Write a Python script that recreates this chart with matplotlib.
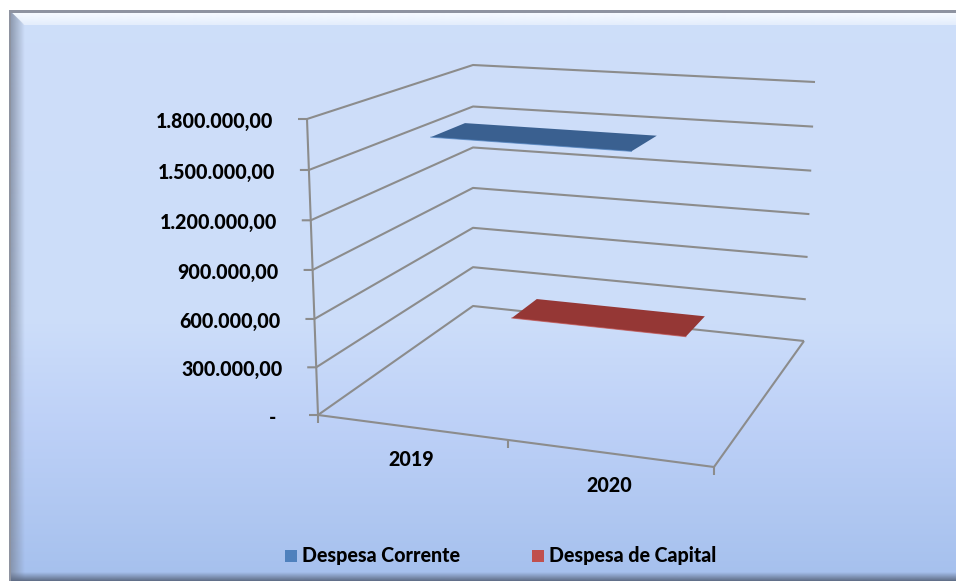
import numpy as np
import matplotlib
matplotlib.use("Agg")
import matplotlib.pyplot as plt
from matplotlib.patches import Polygon, Rectangle

years = ["2019", "2020"]
series = ["Despesa Corrente", "Despesa de Capital"]
values = [1540000, 405000]
ticks = [0, 300000, 600000, 900000, 1200000, 1500000, 1800000]
tick_labels = ["-", "300.000,00", "600.000,00", "900.000,00", "1.200.000,00", "1.500.000,00", "1.800.000,00"]

ymax = 1800000
colors = ["#4F81BD", "#C0504D"]
tops = ["#3A6090", "#953735"]
# where the flat bars sit on the floor, 0-1 along width and depth
bar_u = [(0.118, 0.645), (0.331, 0.802)]
bar_v = [(0.47, 0.69), (0.47, 0.655)]

# 3d box corners in pixels: (front left, back left, back right, front right)
floor = np.array([[318, 415], [473, 306], [804, 341], [714, 467]], float)
roof = np.array([[307, 119], [473, 65], [815, 82], [727, 149]], float)


def project(u, v, val):
    t = val / ymax
    t = t - 0.04 * t * (1 - t)  # slight perspective in the height
    c = floor + (roof - floor) * t
    left = c[0] + (c[1] - c[0]) * v
    right = c[3] + (c[2] - c[3]) * v
    return left + (right - left) * u


def band(x0, x1, y0, y1, col, a0, a1, horizontal, clip=None):
    # small gradient patch fading in alpha, for the bevel
    g = np.linspace(0, 1, 64)
    img = np.ones((64, 4))
    img[:, :3] = matplotlib.colors.to_rgb(col)
    img[:, 3] = a0 + (a1 - a0) * g
    img = img[None, :, :] if horizontal else img[:, None, :]
    im = ax.imshow(img, extent=[x0, x1, y1, y0], aspect="auto", zorder=1)
    if clip is not None:
        p = Polygon(clip, transform=ax.transData, fc="none", ec="none")
        ax.add_patch(p)
        im.set_clip_path(p)


plt.rcParams["font.family"] = ["Lato", "DejaVu Sans"]
plt.rcParams["font.weight"] = "black"

fig = plt.figure(figsize=(9.56, 5.81), dpi=100, facecolor="white")
ax = fig.add_axes([0, 0, 1, 1])

# background gradient
stops_y = [0, 0.55, 0.72, 1]
stops_c = [(0.808, 0.871, 0.98), (0.80, 0.867, 0.98), (0.745, 0.82, 0.97), (0.647, 0.753, 0.93)]
g = np.linspace(0, 1, 256)
grad = np.stack([np.interp(g, stops_y, [c[i] for c in stops_c]) for i in range(3)], axis=1)[:, None, :]
ax.imshow(grad, extent=[9, 956, 581, 10], aspect="auto", zorder=0)

# bevel round the frame
band(9, 956, 13, 25, "#F6FAFF", 1.0, 0.55, False, [(12, 13), (956, 13), (956, 25), (24, 25)])
band(9, 25, 13, 581, "#7F8A9F", 0.9, 0.0, True, [(9, 10), (25, 25), (25, 581), (9, 581)])
band(9, 956, 572, 581, "#5F6C85", 0.0, 1.0, False)
ax.add_patch(Rectangle((9, 10), 947, 3, fc="#8E93A0", ec="none", zorder=1))
ax.add_patch(Rectangle((9, 10), 2, 571, fc="#8E93A0", ec="none", zorder=1))

ax.set_xlim(0, 956)
ax.set_ylim(581, 0)
ax.axis("off")

line = dict(color="#8C8C8C", lw=1.5, zorder=2, solid_capstyle="butt")

# gridlines on both walls, with the value tick
for val, lab in zip(ticks, tick_labels):
    p0 = project(0, 0, val)
    p1 = project(0, 1, val)
    p2 = project(1, 1, val)
    ax.plot([p0[0] - 9, p0[0], p1[0], p2[0]], [p0[1], p0[1], p1[1], p2[1]], **line)
    pad = 42 if val == 0 else 34
    ax.text(p0[0] - pad, p0[1] + 2.5, lab, ha="right", va="center", fontsize=14.1, color="black", zorder=5)

# value axis and floor edges
a = project(0, 0, 0)
b = project(0, 0, ymax)
c = project(1, 0, 0)
d = project(1, 1, 0)
ax.plot([a[0], b[0]], [a[1], b[1]], **line)
ax.plot([a[0], c[0]], [a[1], c[1]], **line)
ax.plot([c[0], d[0]], [c[1], d[1]], **line)

# category ticks and labels
for u in [0, 0.48, 1]:
    p = project(u, 0, 0)
    ax.plot([p[0], p[0]], [p[1], p[1] + 8], **line)
for u, lab in zip([0.25, 0.75], years):
    p = project(u, 0, 0)
    ax.text(p[0] - 6, p[1] + 31, lab, ha="center", va="center", fontsize=14.1, color="black", zorder=5)

# bars are almost flat here, only the top face shows
for val, us, vs, col, top in zip(values, bar_u, bar_v, colors, tops):
    pts = [project(us[0], vs[0], val), project(us[0], vs[1], val),
           project(us[1], vs[1], val), project(us[1], vs[0], val)]
    ax.add_patch(Polygon(pts, fc=top, ec="none", zorder=3))
    ax.plot([pts[0][0], pts[3][0]], [pts[0][1], pts[3][1]], color=col, lw=0.8, alpha=0.7, zorder=3)

# legend
for x, name, col in zip([285, 532], series, colors):
    ax.add_patch(Rectangle((x, 550), 12, 12, fc=col, ec="none", zorder=4))
    ax.text(x + 17, 555.5, name, ha="left", va="center", fontsize=14.1, color="black", zorder=5)

fig.savefig("out.png", dpi=100)
